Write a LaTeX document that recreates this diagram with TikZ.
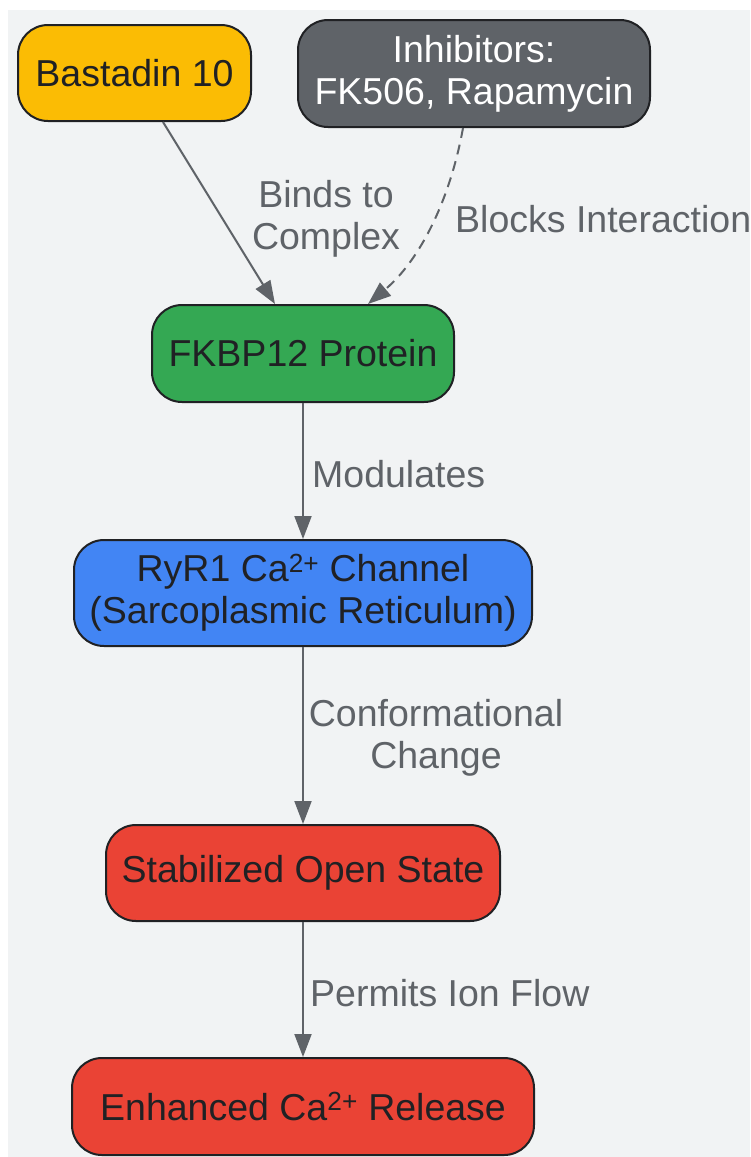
\documentclass[tikz,border=0pt]{standalone}
\usepackage{fontspec}
\setmainfont{Liberation Sans}
\usetikzlibrary{arrows.meta}

\definecolor{bggray}{HTML}{F1F3F4}
\definecolor{linegray}{HTML}{5F6368}
\definecolor{ink}{HTML}{202124}
\definecolor{gyellow}{HTML}{FBBC04}
\definecolor{ggreen}{HTML}{34A853}
\definecolor{gblue}{HTML}{4285F4}
\definecolor{gred}{HTML}{EA4335}

\newcommand\bigtxt{\fontsize{37.5}{42}\selectfont}

\tikzset{
  box/.style={draw=ink, line width=2pt, rounded corners=30pt, inner sep=0pt,
              align=center, text=ink, font=\bigtxt},
  lbl/.style={text=linegray, align=center, font=\bigtxt, inner sep=0pt},
  flow/.style={-{Triangle[length=23pt,width=17pt]}, draw=linegray, line width=2pt},
}

\begin{document}
\begin{tikzpicture}[x=1pt, y=-1pt]
      \useasboundingbox (0,0) rectangle (750,1157);
      \fill[bggray] (8,10) rectangle (750,1157);

      \node[box, fill=gyellow, minimum width=233pt, minimum height=96pt](bast) at (134.5, 73.0){Bastadin 10};
      \node[box, fill=linegray, text=white, minimum width=352pt, minimum height=107pt](inh) at (474.0, 73.5){Inhibitors:\\FK506, Rapamycin};
      \node[box, fill=ggreen, minimum width=302pt, minimum height=97pt](fkbp) at (303.0, 353.5){FKBP12 Protein};
      \node[box, fill=gblue, minimum width=458pt, minimum height=106pt](ryr) at (303.0, 593.0){RyR1 Ca\textsuperscript{2+} Channel\\(Sarcoplasmic Reticulum)};
      \node[box, fill=gred, minimum width=394pt, minimum height=96pt](stab) at (303.0, 873.0){Stabilized Open State};
      \node[box, fill=gred, minimum width=462pt, minimum height=97pt](enh) at (303.0, 1106.5){Enhanced Ca\textsuperscript{2+} Release};

      \draw[flow] ([xshift=28.5pt]bast.south) -- ([xshift=-28pt]fkbp.north);
      \draw[flow, dash pattern=on 10pt off 7pt] ([xshift=-11pt]inh.south) .. controls (450,200) and (420,260) .. ([xshift=65pt]fkbp.north);

      \foreach \a/\b in {fkbp/ryr, ryr/stab, stab/enh} {
        \draw[flow] (\a) -- (\b);
      }

      \node[lbl](lbind) at (326, 219){Binds to\\Complex};
      \node[lbl, anchor=west](lblock) at (455, 219){Blocks Interaction};
      \node[lbl, anchor=west](lmod) at (312, 474){Modulates};
      \node[lbl](lconf) at (436, 738){Conformational\\Change};
      \node[lbl, anchor=west](lperm) at (310, 993){Permits Ion Flow};
\end{tikzpicture}
\end{document}
